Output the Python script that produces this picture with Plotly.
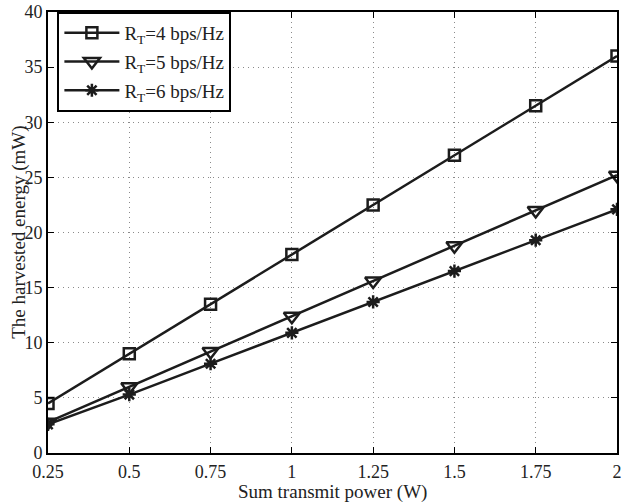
import plotly.graph_objects as go

power = [0.25, 0.5, 0.75, 1, 1.25, 1.5, 1.75, 2]
e_rt4 = [4.5, 9.0, 13.5, 18.0, 22.5, 27.0, 31.5, 36.0]
e_rt5 = [2.8, 6.0, 9.2, 12.4, 15.6, 18.8, 22.0, 25.2]
e_rt6 = [2.6, 5.3, 8.1, 10.9, 13.7, 16.5, 19.3, 22.1]
names = ["R<sub>T</sub>=4 bps/Hz", "R<sub>T</sub>=5 bps/Hz", "R<sub>T</sub>=6 bps/Hz"]
xticks = [0.25, 0.5, 0.75, 1, 1.25, 1.5, 1.75, 2]
xticklabels = ["0.25", "0.5", "0.75", "1", "1.25", "1.5", "1.75", "2"]
yticks = [0, 5, 10, 15, 20, 25, 30, 35, 40]
x_title = "Sum transmit power (W)"
y_title = "The harvested energy (mW)"

INK = "#1c1c1c"
fig = go.Figure()
series = [(e_rt4, "square-open", 11), (e_rt5, "triangle-down-open", 14), (e_rt6, "asterisk-open", 11)]
for i, ((ys, sym, sz), nm) in enumerate(zip(series, names)):
    fig.add_trace(go.Scatter(
        x=power, y=ys, name=nm, mode="lines+markers", legendgroup=f"g{i}",
        line=dict(color=INK, width=2.5),
        marker=dict(symbol=sym, size=sz, color=INK, line=dict(color=INK, width=2.5)),
    ))

FAM = "Liberation Serif, Times New Roman, serif"
font = dict(family=FAM, color="#222", size=18)
axis_common = dict(
    showline=True, linecolor="black", linewidth=2, mirror="ticks",
    ticks="inside", ticklen=6, tickcolor="black", tickwidth=1,
    showgrid=True, gridcolor="#8a8a8a", griddash="1px,4px", gridwidth=1,
    zeroline=False, tickfont=font, ticklabeloverflow="allow",
)
fig.update_layout(
    width=624, height=502,
    margin=dict(l=48, r=2, t=11, b=49),
    paper_bgcolor="white", plot_bgcolor="white",
    font=font,
    showlegend=True,
    legend=dict(
        x=0.0165, y=1.0, xanchor="left", yanchor="top",
        bgcolor="white", bordercolor="black", borderwidth=2,
        font=dict(family=FAM, size=19, color="#222"),
        itemwidth=55, tracegroupgap=1,
    ),
    xaxis=dict(range=[0.25, 2], tickvals=xticks, ticktext=xticklabels, ticklabelstandoff=1,
               **axis_common),
    yaxis=dict(range=[0, 40], tickvals=yticks, **axis_common),
    annotations=[
        dict(text=y_title, textangle=-90, xref="paper", yref="paper",
             x=-30 / 574, y=0.5, xanchor="center", yanchor="middle", showarrow=False,
             font=dict(family=FAM, size=19, color="#222")),
        dict(text=x_title, xref="paper", yref="paper",
             x=0.5, y=-(492 - 453) / 442, xanchor="center", yanchor="middle", showarrow=False,
             font=dict(family=FAM, size=19, color="#222")),
    ],
)
fig.write_html("out.html")
